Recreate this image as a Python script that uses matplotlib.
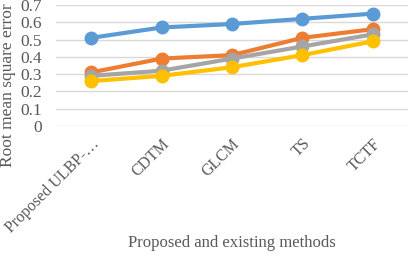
import matplotlib
matplotlib.use("Agg")
import matplotlib.pyplot as plt

methods = ["Proposed ULBP-…", "CDTM", "GLCM", "TS", "TCTF"]
series_a = [0.51, 0.57, 0.59, 0.62, 0.65]
series_b = [0.31, 0.39, 0.41, 0.51, 0.56]
series_c = [0.29, 0.32, 0.39, 0.46, 0.53]
series_d = [0.26, 0.29, 0.34, 0.41, 0.49]
colors = ["#5B9BD5", "#ED7D31", "#A5A5A5", "#FFC000"]
yticks = [0, 0.1, 0.2, 0.3, 0.4, 0.5, 0.6, 0.7]

plt.rcParams["font.family"] = ["Liberation Serif", "DejaVu Serif"]

fig = plt.figure(figsize=(4.08, 2.56), dpi=100)
ax = fig.add_axes([56 / 408, 1 - 126 / 256, 352 / 408, 121 / 256])

x = list(range(len(methods)))
for ys, c in zip([series_a, series_b, series_c, series_d], colors):
    ax.plot(x, ys, color=c, lw=3, marker="o", ms=9, solid_capstyle="round")

ax.set_xlim(-0.5, len(methods) - 0.5)
ax.set_ylim(0, 0.7)
ax.set_yticks(yticks)
ax.set_yticklabels([f"{v:g}" for v in yticks], fontsize=12.5, color="#595959")
ax.set_xticks(x)
ax.set_xticklabels(methods, rotation=45, ha="right", rotation_mode="anchor",
                   fontsize=11.5, color="#595959")
ax.tick_params(axis="y", length=0, pad=10)
ax.tick_params(axis="x", length=0, pad=7)
ax.grid(axis="y", color="#D9D9D9", lw=1)
ax.set_axisbelow(True)
for s in ax.spines.values():
    s.set_visible(False)

fig.text(8 / 408, 1 - 85 / 256, "Root mean square error", rotation=90,
         ha="center", va="center", fontsize=12.5, color="#595959")
fig.text(232 / 408, 1 - 243 / 256, "Proposed and existing methods", ha="center",
         va="center", fontsize=12, color="#595959")

fig.savefig("out.png", dpi=100)
